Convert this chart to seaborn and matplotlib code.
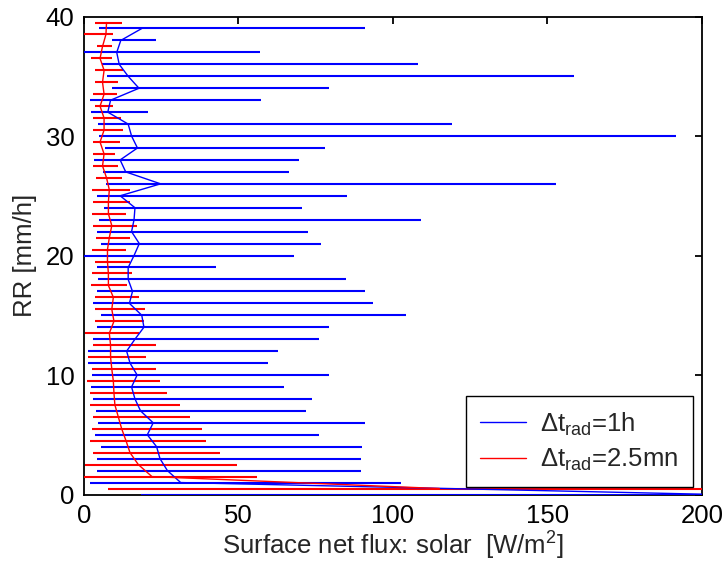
import numpy as np
import pandas as pd
import matplotlib
matplotlib.use("Agg")
import matplotlib.pyplot as plt
import seaborn as sns

# ---------------- data ----------------
# Delta t_rad = 1h  (blue), rain-rate bins 0..39 mm/h
rr_blue = [0, 1, 2, 3, 4, 5, 6, 7, 8, 9, 10, 11, 12, 13, 14, 15, 16, 17, 18, 19,
           20, 21, 22, 23, 24, 25, 26, 27, 28, 29, 30, 31, 32, 33, 34, 35, 36, 37, 38, 39]
blue_mean = [205, 31.3, 27.0, 24.6, 23.5, 20.5, 22.4, 18.3, 16.5, 15.4,
             17.2, 14.9, 13.8, 16.5, 19.4, 18.7, 14.7, 15.7, 14.3, 14.3,
             16.2, 17.9, 15.4, 16.2, 16.5, 11.7, 24.8, 13.5, 11.7, 17.3,
             15.4, 14.3, 7.7, 8.6, 17.8, 14.3, 11.4, 10.6, 11.9, 18.7]
blue_lo = [18.5, 1.9, 4.1, 4.1, 5.4, 3.6, 4.6, 3.9, 2.8, 2.3,
           2.5, 1.4, 1.4, 2.8, 4.1, 5.4, 2.8, 4.1, 4.6, 4.1,
           0.0, 5.4, 4.1, 5.0, 6.5, 4.1, 7.1, 6.0, 3.2, 6.8,
           5.0, 4.6, 2.3, 1.9, 9.2, 7.3, 5.7, 0.0, 9.2, 5.0]
blue_hi = [260, 102.5, 89.5, 89.5, 90.0, 76.2, 91.0, 72.0, 73.9, 64.7,
           79.4, 59.5, 62.8, 76.2, 79.4, 104.2, 93.6, 91.0, 84.9, 42.6,
           68.0, 76.6, 72.6, 109.0, 70.6, 85.0, 152.6, 66.4, 69.7, 78.0,
           191.7, 119.0, 20.6, 57.3, 79.4, 158.6, 108.0, 57.0, 23.3, 91.0]

# Delta t_rad = 2.5mn (red), rain-rate bins 0.5..39.5 mm/h
rr_red = [0.5, 1.5, 2.5, 3.5, 4.5, 5.5, 6.5, 7.5, 8.5, 9.5,
          10.5, 11.5, 12.5, 13.5, 14.5, 15.5, 16.5, 17.5, 18.5, 19.5,
          20.5, 21.5, 22.5, 23.5, 24.5, 25.5, 26.5, 27.5, 28.5, 29.5,
          30.5, 31.5, 32.5, 33.5, 34.5, 35.5, 36.5, 37.5, 38.5, 39.5]
red_mean = [115, 22.0, 17.6, 14.9, 13.6, 12.2, 11.1, 10.0, 9.7, 9.5,
            9.0, 8.6, 8.6, 8.2, 9.7, 9.0, 9.5, 7.9, 7.9, 7.6,
            7.6, 8.2, 9.0, 7.9, 7.9, 8.2, 7.3, 6.0, 6.5, 5.2,
            6.5, 6.5, 5.2, 6.5, 6.0, 6.5, 5.2, 6.0, 7.1, 7.3]
red_lo = [7.9, 0.0, 0.3, 3.0, 1.9, 2.5, 2.8, 1.9, 1.9, 1.1,
          2.5, 1.4, 2.8, 0.3, 3.6, 3.6, 3.6, 2.3, 2.7, 3.6,
          2.5, 3.9, 3.0, 2.5, 2.8, 2.5, 3.9, 3.0, 3.0, 2.8,
          3.0, 3.0, 3.6, 3.0, 3.6, 3.6, 2.3, 4.1, 0.0, 3.6]
red_hi = [230, 55.9, 49.4, 44.0, 39.5, 38.1, 34.3, 31.1, 27.0, 24.6,
          23.3, 20.1, 23.3, 17.9, 19.4, 19.7, 17.9, 13.8, 15.4, 14.9,
          13.5, 14.9, 17.3, 13.5, 14.9, 14.9, 12.2, 11.1, 10.0, 11.7,
          12.7, 11.9, 9.5, 10.6, 10.9, 12.7, 9.2, 9.2, 9.5, 12.4]

label_blue = r"$\Delta t_{rad}$=1h"
label_red = r"$\Delta t_{rad}$=2.5mn"
xticks = [0, 50, 100, 150, 200]
yticks = [0, 10, 20, 30, 40]

# ---------------- style ----------------
sns.set_theme(style="white")
plt.rcParams["font.family"] = ["Liberation Sans", "DejaVu Sans"]
plt.rcParams["mathtext.default"] = "regular"
plt.rcParams["axes.edgecolor"] = "black"
plt.rcParams["axes.linewidth"] = 1.3

BLUE = "#0000ff"
RED = "#ff0000"
FS = 18.5

fig = plt.figure(figsize=(7.24, 5.61), dpi=100)
ax = fig.add_axes([0.116, 0.1185, 0.8536, 0.852])

# blue: error bars + mean line
ax.hlines(rr_blue, blue_lo, blue_hi, colors=BLUE, linewidth=1.5, zorder=3)
sns.lineplot(x=blue_mean, y=rr_blue, sort=False, estimator=None,
             color=BLUE, linewidth=1.0, ax=ax, label=label_blue, zorder=4)
# red: error bars + mean line
ax.hlines(rr_red, red_lo, red_hi, colors=RED, linewidth=1.5, zorder=3)
sns.lineplot(x=red_mean, y=rr_red, sort=False, estimator=None,
             color=RED, linewidth=1.0, ax=ax, label=label_red, zorder=4)

ax.set_xlim(0, 200)
ax.set_ylim(0, 40)
ax.set_xticks(xticks)
ax.set_yticks(yticks)
ax.tick_params(axis="both", which="both", direction="in", length=5, width=1.3,
               top=True, right=True, labelsize=FS, colors="black", pad=7)
for s in ax.spines.values():
    s.set_visible(True)
    s.set_color("black")
    s.set_zorder(2.5)

ax.set_xlabel(r"Surface net flux: solar  [W/m$^2$]", fontsize=FS, labelpad=1)
ax.set_ylabel("RR [mm/h]", fontsize=FS, labelpad=6)

leg = ax.legend(loc="lower right", bbox_to_anchor=(0.985, 0.016),
                fontsize=FS, frameon=True, fancybox=False, framealpha=1,
                edgecolor="black", handlelength=1.8, handletextpad=0.55,
                borderpad=0.55, labelspacing=0.35, borderaxespad=0)
leg.get_frame().set_linewidth(1.0)
for line in leg.get_lines():
    line.set_linewidth(1.0)

fig.savefig("out.png", dpi=100)
